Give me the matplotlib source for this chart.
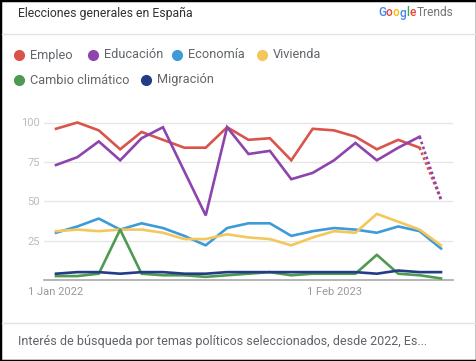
import numpy as np
import matplotlib.pyplot as plt
from matplotlib.lines import Line2D
from matplotlib.patches import Rectangle

plt.rcParams['font.family'] = ['Roboto', 'DejaVu Sans']

# monthly data, Jan 2022 .. Jul 2023 (last month partial)
months = np.arange(19)
xtick_pos = [0, 13]
xtick_labels = ['1 Jan 2022', '1 Feb 2023']
ytick_pos = [25, 50, 75, 100]

series_names = ['Empleo', 'Educación', 'Economía', 'Vivienda',
                'Cambio climático', 'Migración']
colors = ['#d9544a', '#8e44ad', '#3d9bd8', '#f3c75c', '#4e9a51', '#233c85']

empleo = [96, 100, 95, 83, 94, 89, 84, 84, 97, 89, 90, 76, 96, 95, 91, 83, 89, 84, 51]
educacion = [73, 78, 88, 76, 90, 97, 69, 41, 97, 80, 82, 64, 68, 76, 87, 76, 84, 91, 51]
economia = [30, 34, 39, 32, 36, 33, 28, 22, 33, 36, 36, 28, 31, 33, 32, 30, 34, 31, 20]
vivienda = [31, 32, 31, 32, 32, 30, 26, 26, 29, 27, 26, 22, 27, 31, 30, 42, 37, 32, 22]
cambio = [2.5, 2.5, 4, 32, 4, 3, 3, 2, 3, 4, 5, 3, 4, 4, 4, 16, 4, 3, 1]
migracion = [4, 5, 5, 4, 5, 5, 4, 4, 5, 5, 5, 5, 5, 5, 5, 4, 6, 5, 5]
values = [empleo, educacion, economia, vivienda, cambio, migracion]
dotted_last = [True, True, False, False, False, False]

W, H = 477, 361
fig = plt.figure(figsize=(W / 100, H / 100), dpi=100)


def px(x, y):
    return x / W, 1 - y / H


# frame and separators
fig.patches.append(Rectangle((0, 0), 1, 1, transform=fig.transFigure,
                             fill=False, edgecolor='black', linewidth=2.5))
for yy in (34, 323):
    fig.add_artist(Line2D([1.5 / W, 1 - 1.5 / W], [1 - yy / H] * 2,
                          color='#e3e3e3', linewidth=1))

fig.text(*px(18, 13), 'Elecciones generales en España', fontsize=8.8,
         color='#303134', va='center', ha='left')

# Google Trends logo
fig.canvas.draw()
renderer = fig.canvas.get_renderer()
logo_colors = ['#4285F4', '#EA4335', '#FBBC05', '#4285F4', '#34A853', '#EA4335']
xcur = 378
for ch, c in zip('Google', logo_colors):
    t = fig.text(*px(xcur, 13), ch, fontsize=8.6, color=c, va='center',
                 ha='left', fontweight='medium')
    xcur += t.get_window_extent(renderer).width
fig.text(*px(xcur + 1.5, 13), 'Trends', fontsize=8.6, color='#757575',
         va='center', ha='left')

# legend
legend_pos = [(19, 55), (93, 55), (177, 55), (262, 55), (19, 80), (146, 80)]
for name, c, (lx, ly) in zip(series_names, colors, legend_pos):
    fig.add_artist(Line2D([lx / W], [1 - ly / H], marker='o', markersize=7,
                          color=c, linestyle='none'))
    fig.text(*px(lx + 11, ly), name, fontsize=9.2, color='#62666a',
             va='center', ha='left')

# chart
step = (441 - 56) / 18
x0 = 44
x1 = 453
ax = fig.add_axes([x0 / W, (H - 280) / H, (x1 - x0) / W, 173.25 / H])
ax.set_xlim(-(56 - x0) / step, 18 + (x1 - 441) / step)
ax.set_ylim(0, 110)

for v, c, dot in zip(values, colors, dotted_last):
    if dot:
        ax.plot(months[:-1], v[:-1], color=c, linewidth=1.9,
                solid_joinstyle='miter', zorder=3)
        ax.plot(months[-2:], v[-2:], color=c, linewidth=1.9,
                linestyle=(0, (1, 1)), zorder=3)
    else:
        ax.plot(months, v, color=c, linewidth=1.9, zorder=3)

for yv in ytick_pos:
    ax.axhline(yv, color='#e6e6e6', linewidth=1, zorder=1)
ax.axhline(0, color='#a8a8a8', linewidth=1.2, zorder=2, clip_on=False)

for s in ax.spines.values():
    s.set_visible(False)
ax.set_yticks(ytick_pos)
ax.set_yticklabels([str(t) for t in ytick_pos], color='#bbbbbb', fontsize=8)
ax.set_xticks(xtick_pos)
ax.set_xticklabels(xtick_labels, color='#9a9a9a', fontsize=8)
ax.tick_params(length=0)
ax.tick_params(axis='y', pad=3)
ax.tick_params(axis='x', pad=5)
ax.patch.set_alpha(0)

fig.text(*px(18, 342), 'Interés de búsqueda por temas políticos seleccionados, desde 2022, Es...',
         fontsize=9, color='#5f6368', va='center', ha='left')

fig.savefig('out.png', dpi=100)
